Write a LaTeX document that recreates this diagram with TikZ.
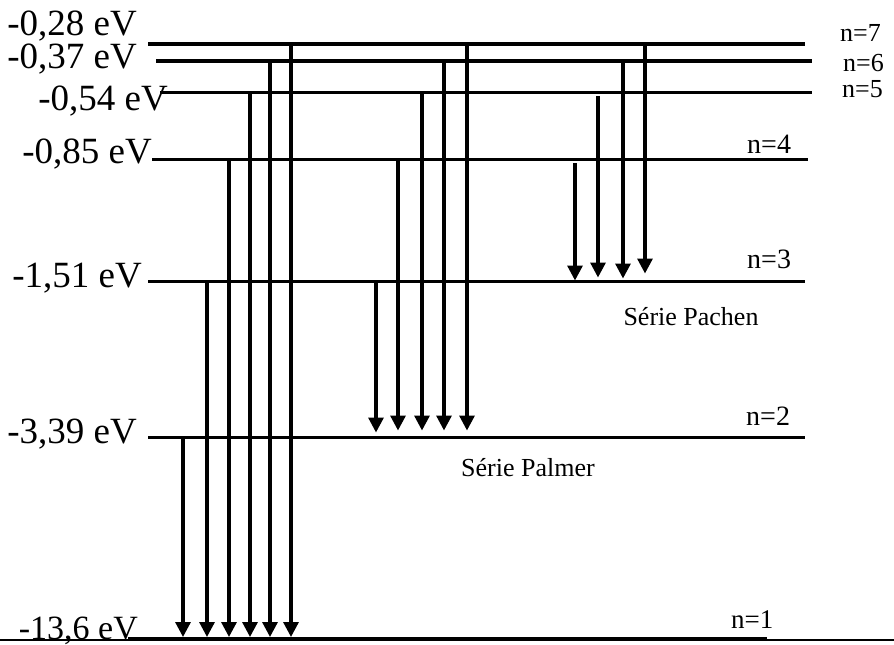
\documentclass[tikz,border=0pt]{standalone}
\usepackage{fontspec}
\setmainfont{Liberation Serif}
\usetikzlibrary{arrows.meta,calc}
\begin{document}
\begin{tikzpicture}[x=1pt,y=-1pt,
  level/.style={line width=3.6pt},
  trans/.style={line width=3.2pt,-{Triangle[width=15pt,length=15pt]}},
  elab/.style={anchor=base east,inner sep=0pt,font=\fontsize{37}{40}\selectfont},
  nlab/.style={anchor=base west,inner sep=0pt,font=\fontsize{28}{32}\selectfont},
  serie/.style={anchor=center,inner sep=0pt,font=\fontsize{26}{30}\selectfont}]
\useasboundingbox (0,0) rectangle (894,645);
% level reference coordinates
\coordinate (l7) at (0,44);
\coordinate (l6) at (0,61);
\coordinate (l5) at (0,92.5);
\coordinate (l4) at (0,159.5);
\coordinate (l3) at (0,281.5);
\coordinate (l2) at (0,437.5);
\coordinate (l1) at (0,639);
% energy labels
\node[elab] (e7) at (137,35) {-0,28 eV};
\node[elab] (e6) at (137,68) {-0,37 eV};
\node[elab] (e5) at (168,110) {-0,54 eV};
\node[elab] (e4) at (152,163) {-0,85 eV};
\node[elab] (e3) at (142,287) {-1,51 eV};
\node[elab] (e2) at (137,443) {-3,39 eV};
\node[elab,font=\fontsize{34}{36}\selectfont] (e1) at (138,639) {-13,6 eV};
% levels
\draw[level] ($(l7)+(148,0)$) -- ($(l7)+(805,0)$);
\draw[level] ($(l6)+(156,0)$) -- ($(l6)+(812,0)$);
\draw[level] ($(l5)+(160,0)$) -- ($(l5)+(812,0)$);
\draw[level] ($(l4)+(152,0)$) -- ($(l4)+(808,0)$);
\draw[level] ($(l3)+(148,0)$) -- ($(l3)+(805,0)$);
\draw[level] ($(l2)+(148,0)$) -- ($(l2)+(805,0)$);
\draw[line width=2pt] ($(l1)+(0,0.5)$) -- ($(l1)+(894,0.5)$);
\draw[level] ($(l1)+(128,0)$) -- ($(l1)+(767,0)$);
% level labels
\node[nlab,font=\fontsize{26}{30}\selectfont] (n7) at (840,41.5) {n=7};
\node[nlab,font=\fontsize{26}{30}\selectfont] (n6) at (843,71.5) {n=6};
\node[nlab,font=\fontsize{26}{30}\selectfont] (n5) at (842,97.5) {n=5};
\node[nlab] (n4) at (747,153) {n=4};
\node[nlab] (n3) at (747,268) {n=3};
\node[nlab] (n2) at (746,425) {n=2};
\node[nlab,font=\fontsize{27}{30}\selectfont] (n1) at (731,628) {n=1};
% Lyman series
\draw[trans] ($(l2)+(183,0)$) -- ($(l1)+(183,-2)$);
\draw[trans] ($(l3)+(207,0)$) -- ($(l1)+(207,-2)$);
\draw[trans] ($(l4)+(229,0)$) -- ($(l1)+(229,-2)$);
\draw[trans] ($(l5)+(250,0)$) -- ($(l1)+(250,-2)$);
\draw[trans] ($(l6)+(270,0)$) -- ($(l1)+(270,-2)$);
\draw[trans] ($(l7)+(291,0)$) -- ($(l1)+(291,-2)$);
% Balmer series
\draw[trans] ($(l3)+(376,0)$) -- ($(l2)+(376,-5)$);
\draw[trans] ($(l4)+(398,0)$) -- ($(l2)+(398,-7)$);
\draw[trans] ($(l5)+(422,0)$) -- ($(l2)+(422,-7)$);
\draw[trans] ($(l6)+(444,0)$) -- ($(l2)+(444,-7)$);
\draw[trans] ($(l7)+(467,0)$) -- ($(l2)+(467,-7)$);
% Paschen series
\draw[trans] ($(l4)+(575,3.5)$) -- ($(l3)+(575,-1)$);
\draw[trans] ($(l5)+(598,3.5)$) -- ($(l3)+(598,-4)$);
\draw[trans] ($(l6)+(623,0)$) -- ($(l3)+(623,-3)$);
\draw[trans] ($(l7)+(645,0)$) -- ($(l3)+(645,-8)$);
% series labels
\node[serie] (sp) at (691,317) {Série Pachen};
\node[serie] (sb) at (528,468) {Série Palmer};
\end{tikzpicture}
\end{document}
